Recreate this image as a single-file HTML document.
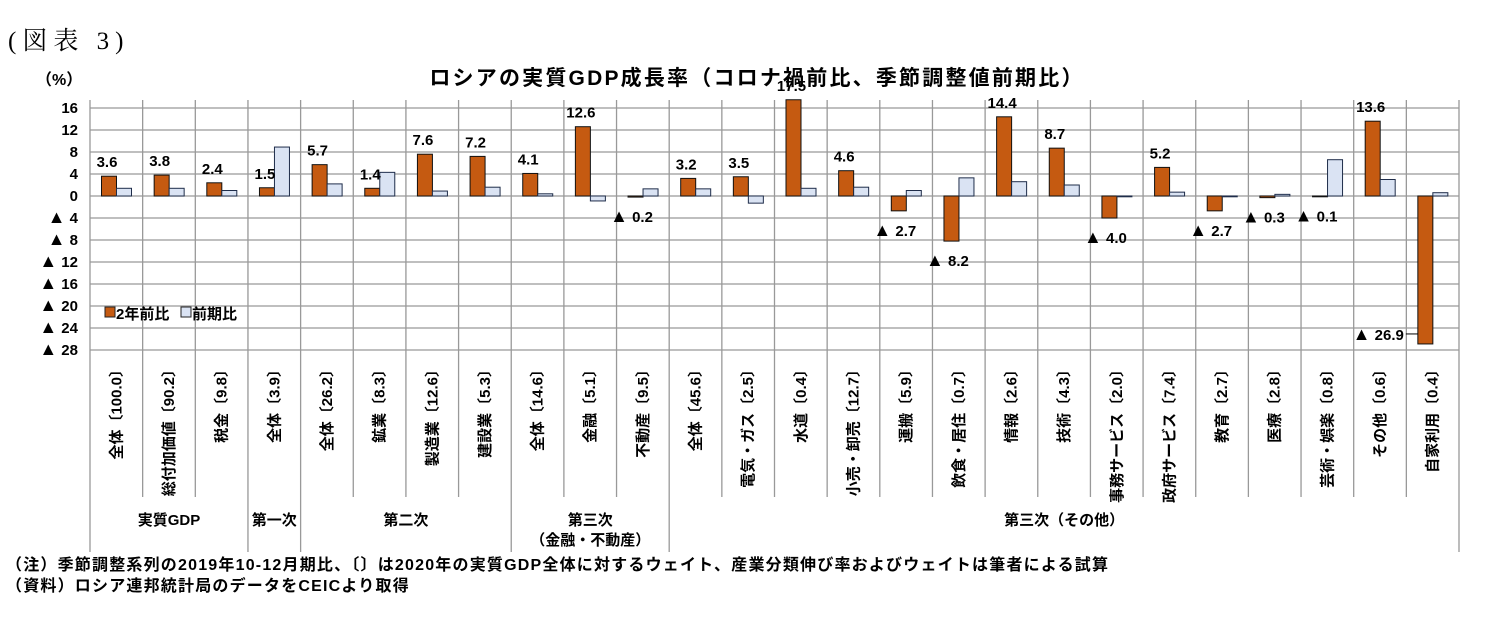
<!DOCTYPE html>
<html><head><meta charset="utf-8"><style>
body{margin:0;background:#fff;}
svg{display:block;font-family:"Liberation Sans","Noto Sans CJK JP",sans-serif;}
</style></head><body>
<svg id="chart" width="1501" height="627" viewBox="0 0 1501 627">
<text x="8" y="49" font-family="Liberation Serif,'Noto Serif CJK SC',serif" font-size="25" letter-spacing="6" fill="#000">(図表 3)</text>
<text x="757" y="85" text-anchor="middle" font-size="21" letter-spacing="2.2" font-weight="bold">ロシアの実質GDP成長率（コロナ禍前比、季節調整値前期比）</text>
<text x="36" y="85" font-size="16" font-weight="bold">（%）</text>
<g id="grid"></g><g id="bars"></g><g id="labels"></g><g id="xlabels"></g>
<g>
<rect x="105" y="307" width="10" height="10" fill="#c55a11" stroke="#222"/>
<text x="116" y="319" font-size="15" font-weight="bold">2年前比</text>
<rect x="181" y="307" width="10" height="10" fill="#dae3f3" stroke="#222"/>
<text x="192" y="319" font-size="15" font-weight="bold">前期比</text>
</g>
<text x="6" y="570" font-size="16" letter-spacing="1.2" font-weight="bold">（注）季節調整系列の2019年10-12月期比、〔〕は2020年の実質GDP全体に対するウェイト、産業分類伸び率およびウェイトは筆者による試算</text>
<text x="6" y="591" font-size="16" letter-spacing="1.2" font-weight="bold">（資料）ロシア連邦統計局のデータをCEICより取得</text>
</svg>
<script>
const categories=["全体〔100.0〕","総付加価値〔90.2〕","税金〔9.8〕","全体〔3.9〕","全体〔26.2〕","鉱業〔8.3〕","製造業〔12.6〕","建設業〔5.3〕","全体〔14.6〕","金融〔5.1〕","不動産〔9.5〕","全体〔45.6〕","電気・ガス〔2.5〕","水道〔0.4〕","小売・卸売〔12.7〕","運搬〔5.9〕","飲食・居住〔0.7〕","情報〔2.6〕","技術〔4.3〕","事務サービス〔2.0〕","政府サービス〔7.4〕","教育〔2.7〕","医療〔2.8〕","芸術・娯楽〔0.8〕","その他〔0.6〕","自家利用〔0.4〕"];
const twoYear=[3.6,3.8,2.4,1.5,5.7,1.4,7.6,7.2,4.1,12.6,-0.2,3.2,3.5,17.5,4.6,-2.7,-8.2,14.4,8.7,-4.0,5.2,-2.7,-0.3,-0.1,13.6,-26.9];
const qoq=[1.4,1.4,1.0,8.9,2.2,4.3,0.9,1.6,0.4,-0.9,1.3,1.3,-1.3,1.4,1.6,1.0,3.3,2.6,2.0,-0.1,0.7,0.0,0.3,6.6,3.0,0.6];
const yTicks=[16,12,8,4,0,-4,-8,-12,-16,-20,-24,-28];
const groups=[["実質GDP",0,3],["第一次",3,4],["第二次",4,8],["第三次|（金融・不動産）",8,11],["第三次（その他）",11,26]];
const NS="http://www.w3.org/2000/svg";
const L=90,R=1459,cw=(R-L)/categories.length;
const y=v=>196-v*5.5;
const x=i=>L+i*cw;
function mk(tag,attrs,parent,txt){const e=document.createElementNS(NS,tag);for(const k in attrs)e.setAttribute(k,attrs[k]);if(txt!==undefined)e.textContent=txt;(typeof parent==="string"?document.getElementById(parent):parent).appendChild(e);return e;}
function numText(t,v,s){
 if(v<0){mk("tspan",{"font-size":18},t,"▲");mk("tspan",{},t," "+s);}
 else t.textContent=s;
}
yTicks.forEach(tk=>{
 const g=mk("line",{x1:L,x2:R,y1:y(tk),y2:y(tk),stroke:"#999","stroke-width":1.3},"grid");
 
 
 const tl=mk("text",{x:78,y:y(tk)+5,"text-anchor":"end","font-size":15,"font-weight":"bold"},"grid");
 numText(tl,tk,String(Math.abs(tk)));
 
 
});
const bounds=new Set(groups.map(g=>g[1]).concat([26]));
for(let i=0;i<=categories.length;i++){
 const vl=mk("line",{x1:x(i),x2:x(i),y1:100,y2:bounds.has(i)?552:497,stroke:"#999","stroke-width":1.3},"grid");
 
 
}
categories.forEach((c,i)=>{
 const bx=x(i)+11.5,bw=15;
 const v=twoYear[i],q=qoq[i];
 const r1=mk("rect",{x:bx,y:Math.min(y(v),y(0)),width:bw,height:Math.max(Math.abs(y(v)-y(0)),0.8),fill:"#c55a11",stroke:"#111","stroke-width":1},"bars");
 
 
 const r2=mk("rect",{x:bx+bw,y:Math.min(y(q),y(0)),width:bw,height:Math.max(Math.abs(y(q)-y(0)),0.8),fill:"#dae3f3",stroke:"#1f2d4a","stroke-width":1},"bars");
 
 
 let lx=bx+bw/2-2,ly,anchor="middle";
 if(v>=0){ly=y(v)-9;}
 else if(v<-20){lx=bx-14;ly=y(v)-4;anchor="end";
   const ld=mk("line",{x1:bx-12,x2:bx,y1:y(v)-10,y2:y(v)-10,stroke:"#000"},"labels");
   
   }
 else {ly=Math.max(y(v),y(0))+25;lx=bx+bw/2-4;}
 const t=mk("text",{x:lx,y:ly,"text-anchor":anchor,"font-size":15,"font-weight":"bold"},"labels");
 numText(t,v,Math.abs(v).toFixed(1));
 
 
 const cx=x(i)+cw/2+5;
 const xl=mk("text",{x:cx,y:362,"text-anchor":"end","font-size":15,"font-weight":"bold",transform:`rotate(-90 ${cx} 362)`},"xlabels",c);
 
 
});
groups.forEach(g=>{
 const cx=(x(g[1])+x(g[2]))/2,parts=g[0].split("|");
 parts.forEach((p,k)=>{
  const gt=mk("text",{x:cx,y:525+k*20,"text-anchor":"middle","font-size":15,"font-weight":"bold"},"xlabels",p);
  
  
 });
});
</script>
</body></html>
